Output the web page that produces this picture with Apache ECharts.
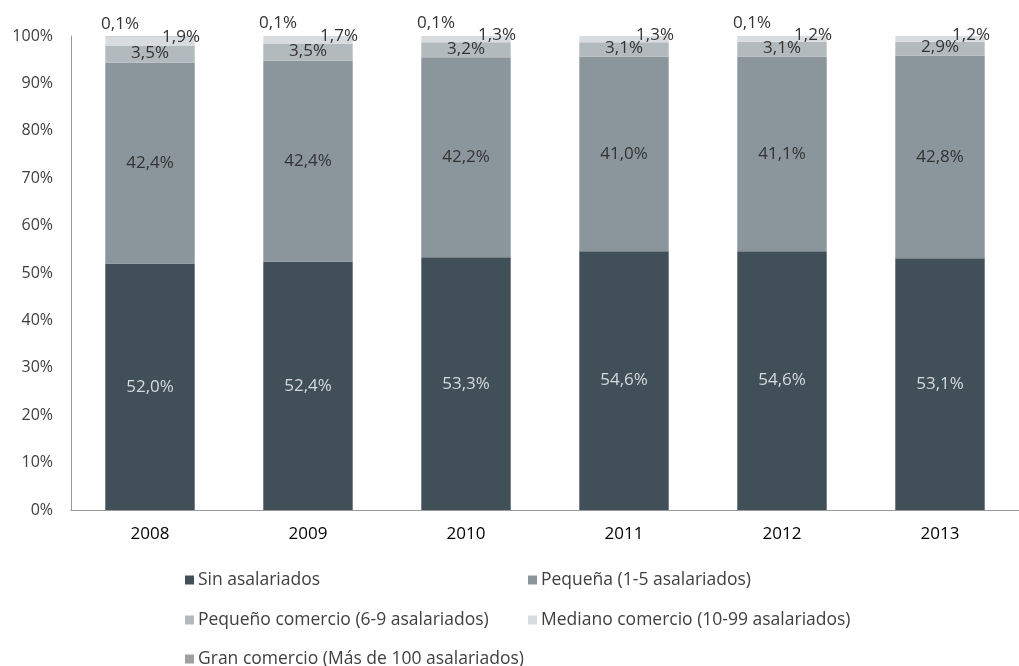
<!DOCTYPE html>
<html>
<head>
<meta charset="utf-8">
<script src="https://cdn.jsdelivr.net/npm/echarts@6/dist/echarts.min.js"></script>
<style>
  html, body { margin: 0; padding: 0; background: #fff; }
  #chart { width: 1019px; height: 666px; }
</style>
</head>
<body>
<div id="chart"></div>
<script>
// Distribución del comercio por tamaño de empresa (% sobre el total)
const years = ['2008', '2009', '2010', '2011', '2012', '2013'];

const sinAsalariados   = [52.0, 52.4, 53.3, 54.6, 54.6, 53.1];
const pequena          = [42.4, 42.4, 42.2, 41.0, 41.1, 42.8];
const pequenoComercio  = [3.5, 3.5, 3.2, 3.1, 3.1, 2.9];
const medianoComercio  = [1.9, 1.7, 1.3, 1.3, 1.2, 1.2];
const granComercio     = [0.1, 0.1, 0.1, 0.0, 0.1, 0.0];

const yTicks = [0, 10, 20, 30, 40, 50, 60, 70, 80, 90, 100];

const FONT = '"Open Sans", "Noto Sans", sans-serif';

function pct(v) {
  return v.toFixed(1).replace('.', ',') + '%';
}

function labelFmt(p) {
  return p.value > 0 ? pct(p.value) : '';
}

const seriesDefs = [
  { name: 'Sin asalariados', data: sinAsalariados, color: '#414f58',
    labelColor: '#d5dadd', shift: [0, 0] },
  { name: 'Pequeña (1-5 asalariados)', data: pequena, color: '#8b969c',
    labelColor: '#333333', shift: [0, 0] },
  { name: 'Pequeño comercio (6-9 asalariados)', data: pequenoComercio, color: '#b3babd',
    labelColor: '#333333', shift: [0, -1] },
  { name: 'Mediano comercio (10-99 asalariados)', data: medianoComercio, color: '#d9dcde',
    labelColor: '#333333', shift: [31, -4] },
  { name: 'Gran comercio (Más de 100 asalariados)', data: granComercio, color: '#a0a0a0',
    labelColor: '#333333', shift: [-30, -13] }
];

const chart = echarts.init(document.getElementById('chart'), null, { renderer: 'canvas' });

const legendPos = [
  { left: 185, top: 571 },
  { left: 528, top: 571 },
  { left: 185, top: 611 },
  { left: 528, top: 611 },
  { left: 185, top: 650 }
];

chart.setOption({
  animation: false,
  backgroundColor: '#ffffff',
  textStyle: { fontFamily: FONT },
  grid: { left: 71, top: 36, height: 474, width: 951, containLabel: false },
  legend: seriesDefs.map((s, i) => ({
    data: [s.name],
    left: legendPos[i].left,
    top: legendPos[i].top,
    icon: 'rect',
    itemWidth: 9,
    itemHeight: 9,
    itemGap: 0,
    padding: 0,
    selectedMode: false,
    textStyle: { fontFamily: FONT, fontSize: 17.5, color: '#404040', padding: [0, 0, 0, -1] }
  })),
  xAxis: {
    type: 'category',
    data: years,
    axisLine: { show: true, lineStyle: { color: '#9a9a9a', width: 1 } },
    axisTick: { show: false },
    axisLabel: { fontFamily: FONT, fontSize: 17, color: '#000000', margin: 16 }
  },
  yAxis: {
    type: 'value',
    min: yTicks[0],
    max: yTicks[yTicks.length - 1],
    interval: yTicks[1] - yTicks[0],
    splitLine: { show: false },
    axisLine: { show: true, lineStyle: { color: '#9a9a9a', width: 1 } },
    axisTick: { show: false },
    axisLabel: { fontFamily: FONT, fontSize: 16, color: '#404040', margin: 18,
                 formatter: v => v + '%' }
  },
  series: seriesDefs.map(s => ({
    name: s.name,
    type: 'bar',
    stack: 'total',
    data: s.data,
    barWidth: '56.6%',
    itemStyle: { color: s.color },
    label: { show: true, position: 'inside', fontFamily: FONT, fontSize: 17,
             color: s.labelColor, formatter: labelFmt },
    labelLayout: { dx: s.shift[0], dy: s.shift[1], hideOverlap: false }
  }))
});
</script>
</body>
</html>
